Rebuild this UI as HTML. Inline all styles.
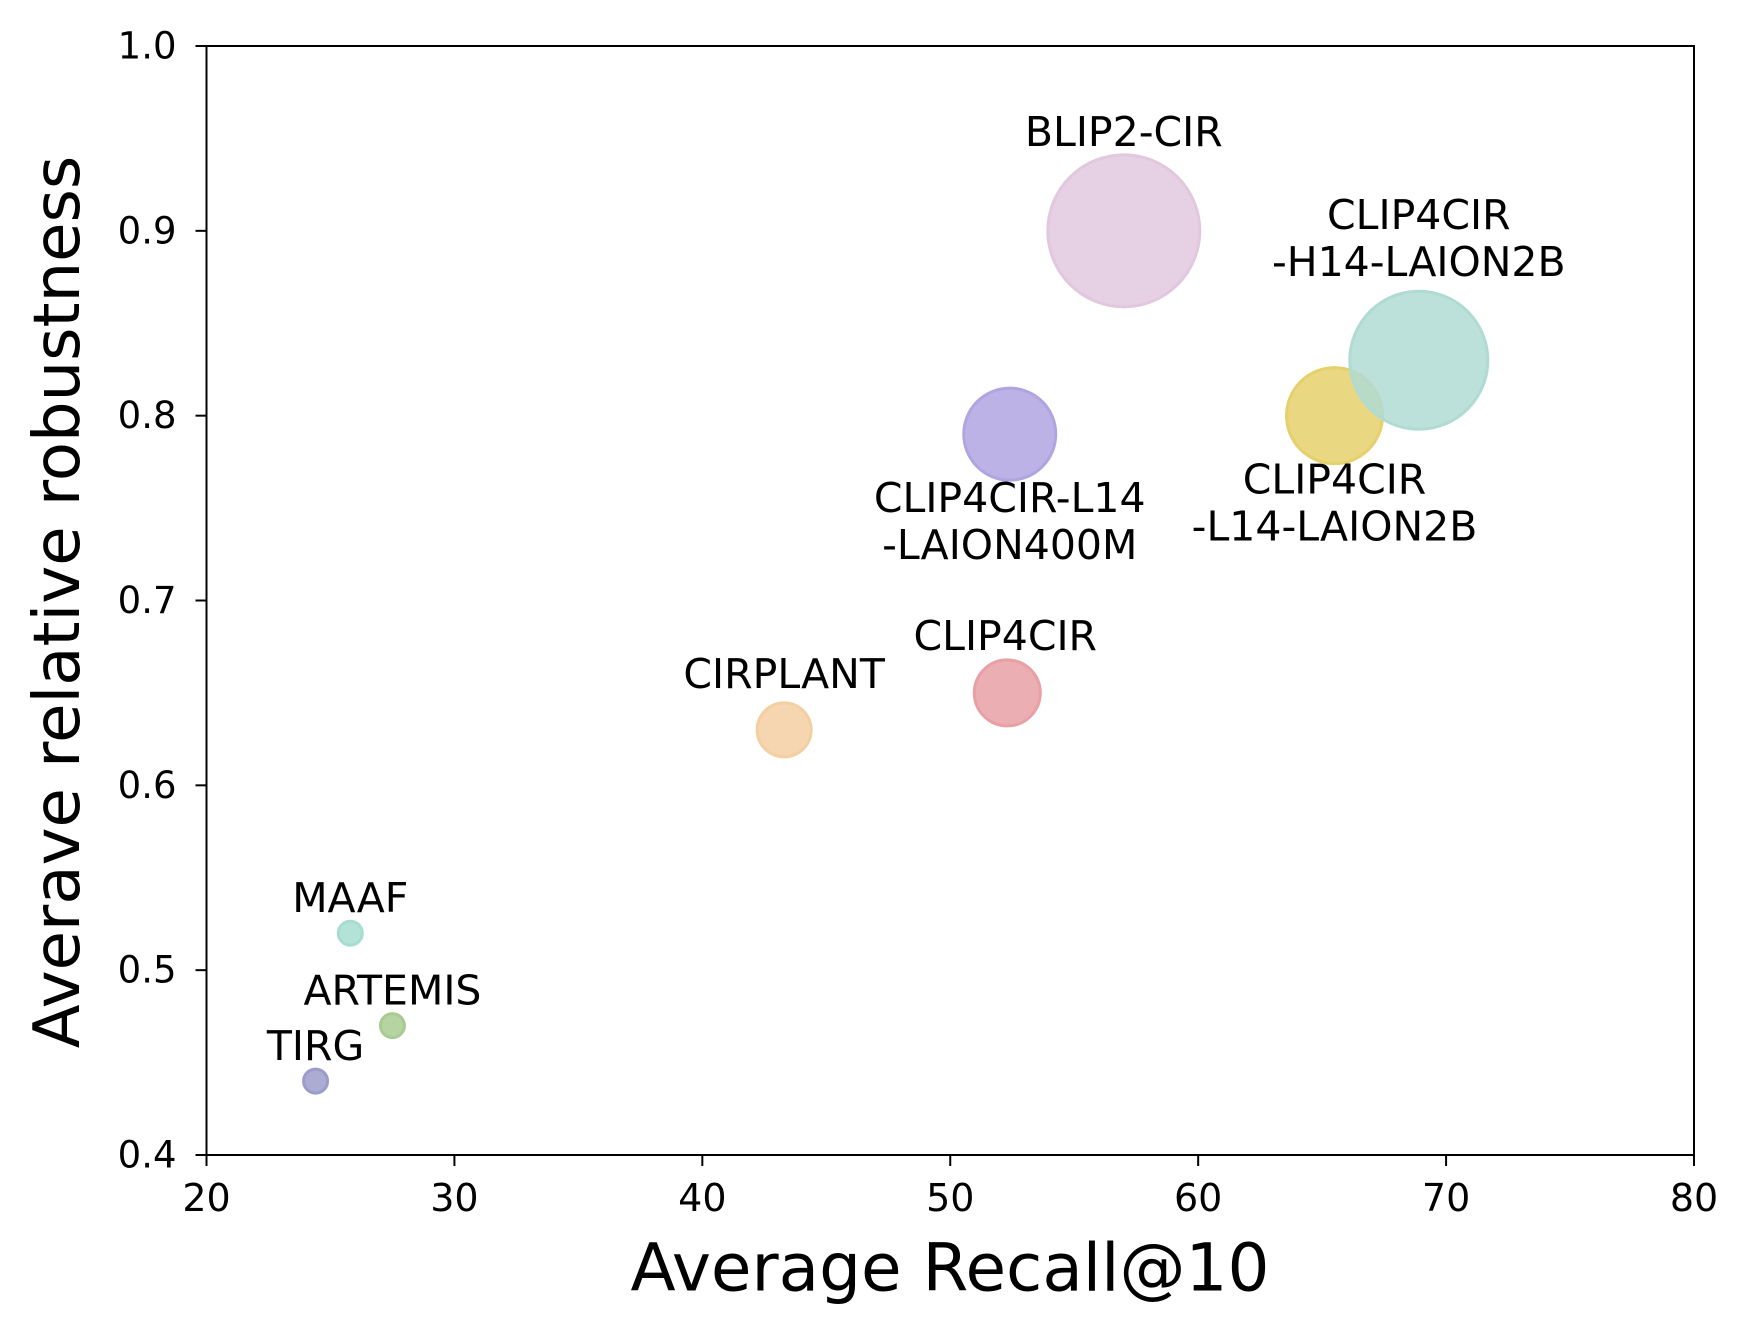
<!DOCTYPE html>
<html><head><meta charset="utf-8"><style>
body{margin:0;background:#fff}
svg{display:block;font-family:"DejaVu Sans","Liberation Sans",sans-serif}
</style></head><body>
<svg id="chart" width="1750" height="1334" viewBox="0 0 1750 1334" xmlns="http://www.w3.org/2000/svg">
<rect width="1750" height="1334" fill="#fff"/>
<g id="marks"></g>
<g id="labels"></g>
<rect x="206.5" y="46" width="1487.5" height="1109" fill="none" stroke="#000" stroke-width="2"/>
<g id="axes"></g>
<text x="950" y="1268" font-size="66" text-anchor="middle" dominant-baseline="central">Average Recall@10</text>
<text transform="translate(58,602) rotate(-90)" font-size="64" text-anchor="middle" dominant-baseline="central">Averave relative robustness</text>
</svg>
<script>
const names=["TIRG","ARTEMIS","MAAF","CIRPLANT","CLIP4CIR","CLIP4CIR-L14-LAION400M","BLIP2-CIR","CLIP4CIR-L14-LAION2B","CLIP4CIR-H14-LAION2B"];
const recall=[24.4,27.5,25.8,43.3,52.3,52.4,57.0,65.5,68.9];
const robust=[0.44,0.47,0.52,0.63,0.65,0.79,0.90,0.80,0.83];
const sizes=[12,12,12,27,33,46,76,48,69];
const fills=["#9c9ccc","#a9cb92","#a6ddd0","#f4cfa2","#e8a0a5","#b0a5e1","#e1c8df","#e6d06c","#b0dbd3"];
const xTicks=[20,30,40,50,60,70,80];
const yTicks=[0.4,0.5,0.6,0.7,0.8,0.9,1.0];
const ns="http://www.w3.org/2000/svg";
const X0=206.5,X1=1694,Y0=1155,Y1=46;
const xs=v=>X0+(v-20)/60*(X1-X0);
const ys=v=>Y0-(v-0.4)/0.6*(Y0-Y1);
function mk(t,a,p){const e=document.createElementNS(ns,t);for(const k in a)e.setAttribute(k,a[k]);p.appendChild(e);return e;}
const marks=document.getElementById('marks'),axes=document.getElementById('axes'),labels=document.getElementById('labels');
names.forEach((n,i)=>{
 const c=mk('circle',{cx:xs(recall[i]),cy:ys(robust[i]),r:sizes[i],fill:fills[i],stroke:fills[i],'stroke-width':3,'fill-opacity':0.85},marks);
 
 
});
const labelDefs=[[["TIRG"],0,-35],[["ARTEMIS"],0,-35],[["MAAF"],0,-35],[["CIRPLANT"],0,-56],[["CLIP4CIR"],-2,-57],[["CLIP4CIR-L14","-LAION400M"],0,64],[["BLIP2-CIR"],0,-99],[["CLIP4CIR","-L14-LAION2B"],0,64],[["CLIP4CIR","-H14-LAION2B"],0,-145]];
labelDefs.forEach((d,i)=>{
 const cx=xs(recall[i])+d[1],cy=ys(robust[i])+d[2];
 d[0].forEach((s,j)=>{
  const t=mk('text',{x:cx,y:cy+j*47,'font-size':41,'text-anchor':'middle','dominant-baseline':'central'},labels);
  t.textContent=s;
  
  
 });
});
xTicks.forEach(v=>{
 const x=xs(v);
 const l=mk('line',{x1:x,x2:x,y1:Y0,y2:Y0+11,stroke:'#000','stroke-width':2},axes);
 
 
 const t=mk('text',{x:x,y:Y0+43,'font-size':38,'text-anchor':'middle','dominant-baseline':'central'},axes);
 t.textContent=v;
 
 
});
yTicks.forEach(v=>{
 const y=ys(v);
 const l=mk('line',{x1:X0-11,x2:X0,y1:y,y2:y,stroke:'#000','stroke-width':2},axes);
 
 
 const t=mk('text',{x:X0-30,y:y,'font-size':37,'text-anchor':'end','dominant-baseline':'central'},axes);
 t.textContent=v.toFixed(1);
 
 
});
</script>
</body></html>
